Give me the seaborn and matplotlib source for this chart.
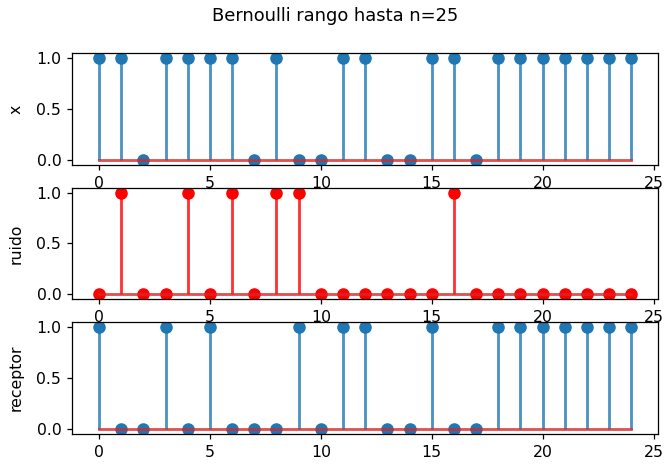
import numpy as np
import matplotlib
matplotlib.use("Agg")
import matplotlib.pyplot as plt
import seaborn as sns

# bits, n = 0..24
n = list(range(25))
x = [1, 1, 0, 1, 1, 1, 1, 0, 1, 0, 0, 1, 1, 0, 0, 1, 1, 0, 1, 1, 1, 1, 1, 1, 1]
ruido = [0, 1, 0, 0, 1, 0, 1, 0, 1, 1, 0, 0, 0, 0, 0, 0, 1, 0, 0, 0, 0, 0, 0, 0, 0]
receptor = [1, 0, 0, 1, 0, 1, 0, 0, 0, 1, 0, 1, 1, 0, 0, 1, 0, 0, 1, 1, 1, 1, 1, 1, 1]

pal = sns.color_palette("tab10")
blue = pal[0]
red = pal[3]

DPI = 113
fig, axes = plt.subplots(3, 1, figsize=(670 / DPI, 466 / DPI), dpi=DPI)
fig.subplots_adjust(left=0.108, right=0.982, top=0.886, bottom=0.069, hspace=0.205)
fig.suptitle("Bernoulli rango hasta n=25", fontsize=11.4, y=0.985, va="top")

series = [(x, "x", "C0-", "C0o"), (ruido, "ruido", "r-", "ro"), (receptor, "receptor", "C0-", "C0o")]
for ax, (vals, label, lfmt, mfmt) in zip(axes, series):
    ml, sl, bl = ax.stem(n, vals, linefmt=lfmt, markerfmt=mfmt, basefmt="C3-")
    if label != "ruido":
        ml.set_color(blue)
        sl.set_color(blue)
    ml.set_markersize(7)
    sl.set_alpha(0.8)
    sl.set_linewidth(1.8)
    bl.set_color(red)
    bl.set_alpha(0.8)
    bl.set_linewidth(1.8)
    ax.set_ylabel(label, labelpad=8)
    ax.set_yticks([0.0, 0.5, 1.0])
    ax.set_xticks([0, 5, 10, 15, 20, 25])

fig.savefig("out.png", dpi=DPI)
